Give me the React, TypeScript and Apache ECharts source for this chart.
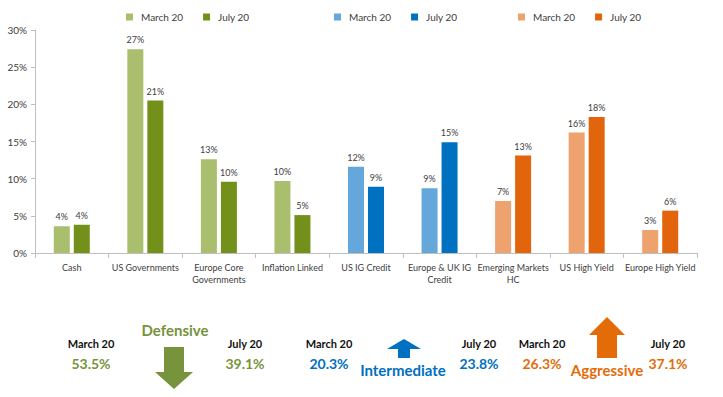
import React, { useEffect, useRef } from "react";
import * as echarts from "echarts";

const categories = [
  "Cash",
  "US Governments",
  "Europe Core\nGovernments",
  "Inflation Linked",
  "US IG Credit",
  "Europe & UK IG\nCredit",
  "Emerging Markets\nHC",
  "US High Yield",
  "Europe High Yield",
];
// group index for each category: 0 Defensive, 1 Intermediate, 2 Aggressive
const categoryGroup = [0, 0, 0, 0, 1, 1, 2, 2, 2];
const march20 = [3.6, 27.4, 12.6, 9.7, 11.6, 8.7, 7.0, 16.2, 3.1];
const july20 = [3.8, 20.5, 9.6, 5.1, 8.9, 14.9, 13.1, 18.3, 5.7];

const groupNames = ["Defensive", "Intermediate", "Aggressive"];
const marchColors = ["#A9BF6E", "#65A7DA", "#EEA26E"];
const julyColors = ["#73911A", "#0070C0", "#E2650E"];
const groupTextColors = ["#77933C", "#0070C0", "#E36C09"];
const groupMarchTotals = ["53.5%", "20.3%", "26.3%"];
const groupJulyTotals = ["39.1%", "23.8%", "37.1%"];
const periodLabels = ["March 20", "July 20"];
const yTicks = [0, 5, 10, 15, 20, 25, 30];

const FONT = "Lato, 'Open Sans', sans-serif";

export default function App() {
  const ref = useRef<HTMLDivElement>(null);
  useEffect(() => {
    if (!ref.current) return;
    const chart = echarts.init(ref.current, null, { renderer: "svg" });

    const series: any[] = [];
    groupNames.forEach((_, g) => {
      [march20, july20].forEach((vals, p) => {
        series.push({
          type: "bar",
          name: periodLabels[p],
          stack: p === 0 ? "march" : "july",
          barWidth: 16,
          barGap: "25%",
          itemStyle: { color: p === 0 ? marchColors[g] : julyColors[g] },
          label: {
            show: true,
            position: "top",
            distance: 5,
            fontSize: 9,
            color: "#404040",
            fontFamily: FONT,
            formatter: (pp: any) => Math.round(pp.value) + "%",
          },
          data: vals.map((v, i) => (categoryGroup[i] === g ? v : null)),
        });
      });
    });

    const legendLefts = [121, 329, 513];
    const legends = groupNames.map((_, g) => ({
      left: legendLefts[g],
      top: 7,
      itemWidth: 7,
      itemHeight: 7,
      itemGap: 20,
      icon: "rect",
      textStyle: { fontSize: 10, color: "#404040", fontFamily: FONT, padding: [0, 0, 0, 3] },
      data: [
        { name: periodLabels[0], itemStyle: { color: marchColors[g] } },
        { name: periodLabels[1], itemStyle: { color: julyColors[g] } },
      ],
    }));

    const textCenters = [
      [91, 245],
      [329, 479],
      [542, 668],
    ];
    const graphics: any[] = [];
    groupNames.forEach((name, g) => {
      textCenters[g].forEach((x, p) => {
        graphics.push({
          type: "text",
          x,
          y: 343,
          style: {
            text: periodLabels[p],
            fill: "#111",
            font: `bold 11px ${FONT}`,
            textAlign: "center",
            textVerticalAlign: "middle",
          },
        });
        graphics.push({
          type: "text",
          x,
          y: 363,
          style: {
            text: p === 0 ? groupMarchTotals[g] : groupJulyTotals[g],
            fill: groupTextColors[g],
            font: `bold 14px ${FONT}`,
            textAlign: "center",
            textVerticalAlign: "middle",
          },
        });
      });
    });
    // group titles
    const titlePos = [
      [175, 330],
      [403, 370],
      [607, 370],
    ];
    groupNames.forEach((name, g) => {
      graphics.push({
        type: "text",
        x: titlePos[g][0],
        y: titlePos[g][1],
        style: {
          text: name,
          fill: groupTextColors[g],
          font: `bold 15px ${FONT}`,
          textAlign: "center",
          textVerticalAlign: "middle",
        },
      });
    });
    // arrows
    graphics.push({
      type: "polygon",
      shape: {
        points: [
          [164, 347], [184, 347], [184, 372], [193, 372], [174, 389], [155, 372], [164, 372],
        ],
      },
      style: { fill: groupTextColors[0] },
    });
    graphics.push({
      type: "polygon",
      shape: {
        points: [
          [398, 358], [410, 358], [410, 349], [421, 349], [404, 339], [387, 349], [398, 349],
        ],
      },
      style: { fill: groupTextColors[1] },
    });
    graphics.push({
      type: "polygon",
      shape: {
        points: [
          [597, 358], [617, 358], [617, 335], [625, 335], [607, 317], [589, 335], [597, 335],
        ],
      },
      style: { fill: groupTextColors[2] },
    });

    chart.setOption({
      animation: false,
      textStyle: { fontFamily: FONT },
      grid: { left: 35, right: 26, top: 30, bottom: 144 },
      legend: legends,
      xAxis: {
        type: "category",
        data: categories,
        axisLine: { lineStyle: { color: "#BFBFBF" } },
        axisTick: { show: true, length: 5, lineStyle: { color: "#BFBFBF" } },
        axisLabel: {
          interval: 0,
          fontSize: 9,
          lineHeight: 12,
          color: "#404040",
          margin: 8,
          fontFamily: FONT,
        },
      },
      yAxis: {
        type: "value",
        min: yTicks[0],
        max: yTicks[yTicks.length - 1],
        interval: yTicks[1] - yTicks[0],
        axisLine: { show: true, lineStyle: { color: "#BFBFBF" } },
        axisTick: { show: true, length: 4, lineStyle: { color: "#BFBFBF" } },
        splitLine: { show: false },
        axisLabel: {
          formatter: "{value}%",
          fontSize: 10,
          color: "#404040",
          margin: 8,
          fontFamily: FONT,
        },
      },
      series,
      graphic: graphics,
    });
    return () => chart.dispose();
  }, []);
  return (
    <div
      ref={ref}
      style={{ position: "fixed", left: 0, top: 0, width: 723, height: 397, background: "#fff" }}
    />
  );
}
